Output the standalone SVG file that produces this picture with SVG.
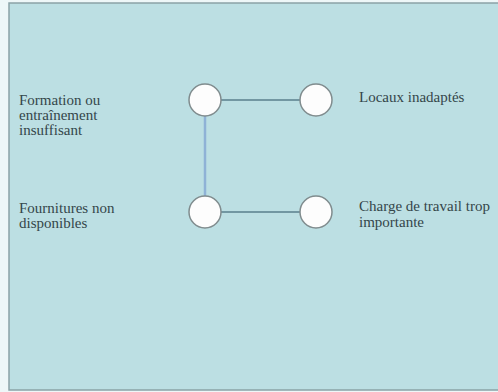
<svg xmlns="http://www.w3.org/2000/svg" width="498" height="392" viewBox="0 0 498 392">
  <style>
    .lbl { font-family: "Liberation Serif", "Times New Roman", serif; font-size: 15px; fill: #34464a; }
    .node { fill: #fdfdfd; stroke: #808c8e; stroke-width: 1.5; }
    .h { stroke: #5a7f8d; stroke-width: 1.5; }
    .v { stroke: #8fb2d6; stroke-width: 2.5; }
  </style>
  <rect x="0" y="0" width="498" height="392" fill="#eef7f8"/>
  <!-- panel -->
  <rect x="9" y="3" width="495" height="387" fill="#bcdfe3" stroke="#8aa3a6" stroke-width="1.5"/>

  <g id="connectors">
    <line class="v" x1="205" y1="100" x2="205" y2="212"/>
    <line class="h" x1="205" y1="100" x2="316" y2="100"/>
    <line class="h" x1="205" y1="212" x2="316" y2="212"/>
  </g>

  <g id="formation">
    <circle class="node" cx="205" cy="100" r="16"/>
    <text class="lbl" x="19" y="105">Formation ou</text>
    <text class="lbl" x="19" y="120">entraînement</text>
    <text class="lbl" x="19" y="135">insuffisant</text>
  </g>
  <g id="locaux">
    <circle class="node" cx="316" cy="100" r="16"/>
    <text class="lbl" x="359" y="102">Locaux inadaptés</text>
  </g>
  <g id="fournitures">
    <circle class="node" cx="205" cy="212" r="16"/>
    <text class="lbl" x="19" y="213">Fournitures non</text>
    <text class="lbl" x="19" y="228">disponibles</text>
  </g>
  <g id="charge">
    <circle class="node" cx="316" cy="212" r="16"/>
    <text class="lbl" x="359" y="211">Charge de travail trop</text>
    <text class="lbl" x="359" y="227">importante</text>
  </g>
</svg>
